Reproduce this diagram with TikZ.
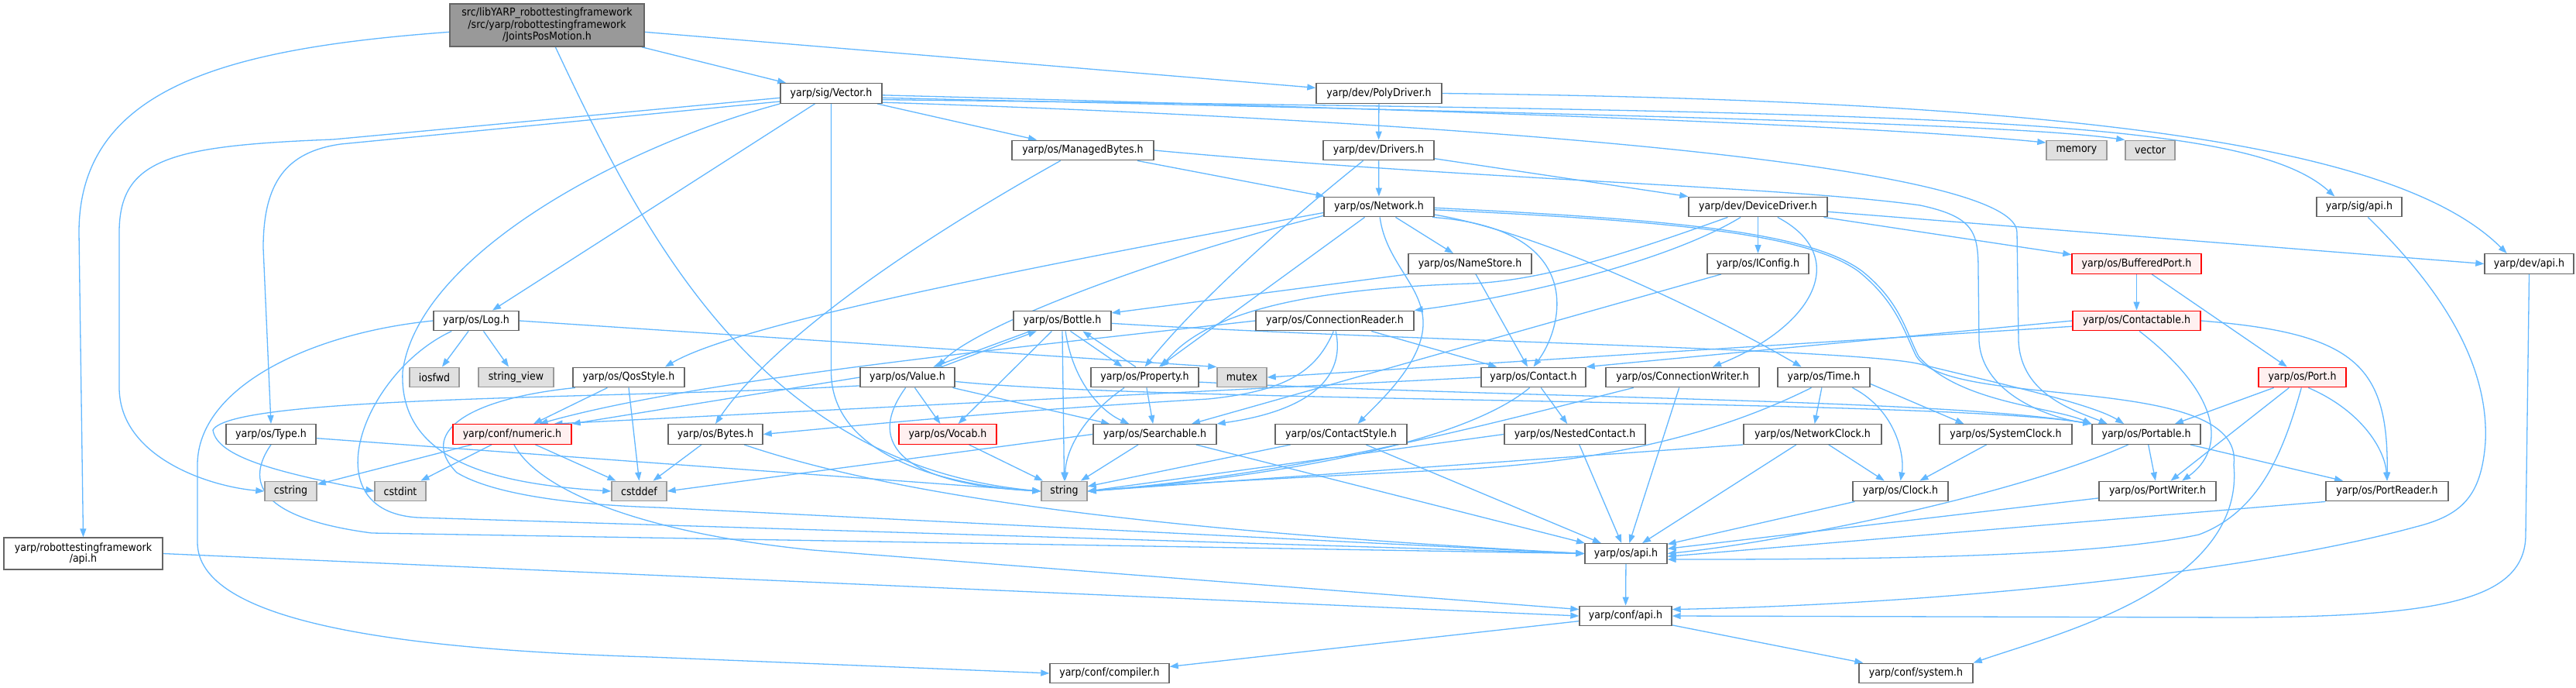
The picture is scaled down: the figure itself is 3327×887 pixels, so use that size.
\documentclass[tikz,border=0pt]{standalone}
\usepackage{fontspec}
\newfontfamily\dvc{DejaVu Sans Condensed}
\usetikzlibrary{arrows.meta}
\definecolor{edgecol}{HTML}{63B8FF}
\definecolor{ndborder}{HTML}{666666}
\definecolor{extfill}{HTML}{E0E0E0}
\definecolor{extborder}{HTML}{999999}
\definecolor{redborder}{HTML}{FF0000}
\definecolor{redfill}{HTML}{FFF0F0}
\definecolor{topfill}{HTML}{999999}
\pgfdeclarelayer{bottom}
\pgfdeclarelayer{background}
\pgfsetlayers{bottom,background,main}
\tikzset{
  nd/.style={draw=ndborder, fill=white, line width=1.4pt, minimum height=25.5pt, inner sep=0pt,
    font=\dvc\fontsize{14}{15.5}\selectfont, text=black, align=center},
  extnd/.style={nd, draw=extborder, fill=extfill},
  rednd/.style={nd, draw=redborder, fill=redfill},
  topnd/.style={nd, fill=topfill},
  lnk/.style={draw=edgecol, line width=1.3pt, -{Triangle[length=11pt,width=8pt]}}
}
\begin{document}
\begin{tikzpicture}[x=1pt,y=-1pt]
\begin{pgfonlayer}{bottom}
\fill[white] (0,0) rectangle (3327,887);
\end{pgfonlayer}
\useasboundingbox (0,0) rectangle (3327,887);
% nodes
\node[topnd, minimum width=251pt, minimum height=55pt] (top) at (706.5,32.5) {src/libYARP\_robottestingframework\\/src/yarp/robottestingframework\\/JointsPosMotion.h};
\node[nd, minimum width=131pt] (Vector) at (1073.5,120.5) {yarp/sig/Vector.h};
\node[nd, minimum width=162pt] (PolyDriver) at (1781,120.5) {yarp/dev/PolyDriver.h};
\node[nd, minimum width=183pt] (ManagedBytes) at (1398.5,194) {yarp/os/ManagedBytes.h};
\node[nd, minimum width=143pt] (Drivers) at (1780.5,194) {yarp/dev/Drivers.h};
\node[extnd, minimum width=78pt] (memory) at (2682,194) {memory};
\node[extnd, minimum width=64pt] (vector) at (2777,194) {vector};
\node[nd, minimum width=142pt] (Network) at (1781,267) {yarp/os/Network.h};
\node[nd, minimum width=179pt] (DeviceDriver) at (2270.5,267) {yarp/dev/DeviceDriver.h};
\node[nd, minimum width=110pt] (sigapi) at (3047,267) {yarp/sig/api.h};
\node[nd, minimum width=159pt] (NameStore) at (1898.5,340.5) {yarp/os/NameStore.h};
\node[nd, minimum width=131pt] (IConfig) at (2270.5,340.5) {yarp/os/IConfig.h};
\node[rednd, minimum width=167pt] (BufferedPort) at (2759.5,340.5) {yarp/os/BufferedPort.h};
\node[nd, minimum width=115pt] (devapi) at (3266.5,340.5) {yarp/dev/api.h};
\node[nd, minimum width=110pt] (Log) at (615,414) {yarp/os/Log.h};
\node[nd, minimum width=126pt] (Bottle) at (1372,414) {yarp/os/Bottle.h};
\node[nd, minimum width=204pt] (ConnectionReader) at (1724,414) {yarp/os/ConnectionReader.h};
\node[rednd, minimum width=165pt] (Contactable) at (2759.5,414) {yarp/os/Contactable.h};
\node[extnd, minimum width=64pt] (iosfwd) at (561,487) {iosfwd};
\node[extnd, minimum width=97pt] (stringview) at (666.5,487) {string\_view};
\node[nd, minimum width=144pt] (QosStyle) at (812,487) {yarp/os/QosStyle.h};
\node[nd, minimum width=122pt] (Value) at (1172,487) {yarp/os/Value.h};
\node[nd, minimum width=139pt] (Property) at (1478.5,487) {yarp/os/Property.h};
\node[extnd, minimum width=64pt] (mutex) at (1604,487) {mutex};
\node[nd, minimum width=135pt] (Contact) at (1980.5,487) {yarp/os/Contact.h};
\node[nd, minimum width=198pt] (ConnectionWriter) at (2173,487) {yarp/os/ConnectionWriter.h};
\node[nd, minimum width=119pt] (Time) at (2355.5,487) {yarp/os/Time.h};
\node[rednd, minimum width=113pt] (Port) at (2973.5,487) {yarp/os/Port.h};
\node[nd, minimum width=116pt] (Type) at (350,560.5) {yarp/os/Type.h};
\node[rednd, minimum width=153pt] (numeric) at (661.5,560.5) {yarp/conf/numeric.h};
\node[nd, minimum width=122pt] (Bytes) at (924,560.5) {yarp/os/Bytes.h};
\node[rednd, minimum width=126pt] (Vocab) at (1224,560.5) {yarp/os/Vocab.h};
\node[nd, minimum width=159pt] (Searchable) at (1491.5,560.5) {yarp/os/Searchable.h};
\node[nd, minimum width=170pt] (ContactStyle) at (1732,560.5) {yarp/os/ContactStyle.h};
\node[nd, minimum width=182pt] (NestedContact) at (2034,560.5) {yarp/os/NestedContact.h};
\node[nd, minimum width=178pt] (NetworkClock) at (2341,560.5) {yarp/os/NetworkClock.h};
\node[nd, minimum width=171pt] (SystemClock) at (2590.5,560.5) {yarp/os/SystemClock.h};
\node[nd, minimum width=140pt] (Portable) at (2772,560.5) {yarp/os/Portable.h};
\node[extnd, minimum width=67pt] (cstring) at (375.5,634) {cstring};
\node[extnd, minimum width=66pt] (cstdint) at (517,634) {cstdint};
\node[extnd, minimum width=71pt] (cstddef) at (825.5,634) {cstddef};
\node[extnd, minimum width=59pt] (string) at (1374.5,634) {string};
\node[nd, minimum width=123pt] (Clock) at (2454.5,634) {yarp/os/Clock.h};
\node[nd, minimum width=151pt] (PortWriter) at (2786.5,634) {yarp/os/PortWriter.h};
\node[nd, minimum width=158pt] (PortReader) at (3083,634) {yarp/os/PortReader.h};
\node[nd, minimum width=205pt, minimum height=41pt, font=\dvc\fontsize{14}{14.5}\selectfont] (rtfapi) at (107.5,714.5) {yarp/robottestingframework\\/api.h};
\node[nd, minimum width=106pt] (osapi) at (2100,714.5) {yarp/os/api.h};
\node[nd, minimum width=119pt] (confapi) at (2099.5,795) {yarp/conf/api.h};
\node[nd, minimum width=154pt] (compiler) at (1433,869) {yarp/conf/compiler.h};
\node[nd, minimum width=147pt] (system) at (2474.5,869) {yarp/conf/system.h};

\begin{pgfonlayer}{background}
% top
\draw[lnk] (top.184.8) .. controls (300,62) and (102,110) .. (102,300) -- (rtfapi.north);
\draw[lnk] (top.-69) .. controls (830,300) and (980,600) .. (string.west);
\draw[lnk] (top.-13.7) -- (Vector.167.5);
\draw[lnk] (top.-4.8) -- (PolyDriver.175);
% rtfapi
\draw[lnk] (rtfapi.east) -- (confapi.west);
% Vector
\draw[lnk] (Vector.185.7) -- (430,180) .. controls (220,188) and (154,205) .. (154,300) -- (154,500) .. controls (154,590) and (270,628) .. (cstring.west);
\draw[lnk] (Vector.189) -- (440,186) .. controls (370,196) and (340,235) .. (340,320) -- (Type.north);
\draw[lnk] (Vector.south west) .. controls (800,190) and (540,330) .. (520,480) .. controls (515,600) and (650,625) .. (cstddef.west);
\draw[lnk] (Vector) -- (Log);
\draw[lnk] (Vector.south) -- (1073.5,480) .. controls (1073.5,580) and (1200,625) .. (string.west);
\draw[lnk] (Vector) -- (ManagedBytes);
\draw[lnk] (Vector.-2.6) .. controls (2000,145) and (2450,165) .. (memory.166);
\draw[lnk] (Vector.-5.2) .. controls (2100,148) and (2600,160) .. (vector.north west);
\draw[lnk] (Vector.-7.8) .. controls (2500,145) and (2900,150) .. (sigapi.157);
\draw[lnk] (Vector.-10.4) .. controls (1700,150) and (2605,200) .. (2605,300) -- (2607,440) .. controls (2610,510) and (2680,530) .. (Portable.165);
% PolyDriver
\draw[lnk] (PolyDriver) -- (Drivers);
\draw[lnk] (PolyDriver.east) .. controls (2700,130) and (3100,190) .. (devapi.155);
% ManagedBytes
\draw[lnk] (ManagedBytes.205) .. controls (1150,330) and (990,450) .. (Bytes.north);
\draw[lnk] (ManagedBytes) -- (Network);
\draw[lnk] (ManagedBytes.east) .. controls (1900,232) and (2300,240) .. (2480,265) .. controls (2550,280) and (2555,300) .. (2555,350) -- (2556,440) .. controls (2560,510) and (2650,540) .. (Portable.north west);
% Drivers
\draw[lnk] (Drivers) -- (Network);
\draw[lnk] (Drivers) -- (DeviceDriver);
\draw[lnk] (Drivers.-146) .. controls (1620,320) and (1530,410) .. (Property.north);
% Network
\draw[lnk] (Network) -- (NameStore);
\draw[lnk] (Network.-85) .. controls (1790,340) and (1840,370) .. (1838,420) .. controls (1836,470) and (1780,520) .. (ContactStyle.32);
\draw[lnk] (Network) -- (Property);
\draw[lnk] (Network.-11) .. controls (2050,295) and (2020,420) .. (Contact.north);
\draw[lnk] (Network.-8) .. controls (1990,300) and (2200,400) .. (Time.155);
\draw[lnk] (Network.-3) .. controls (2150,285) and (2330,300) .. (2400,350) .. controls (2450,390) and (2460,430) .. (2475,460) .. controls (2520,530) and (2900,480) .. (2885,600) .. controls (2900,760) and (2650,820) .. (system.north east);
\draw[lnk] (Network.-1) .. controls (2150,283) and (2335,298) .. (2405,350) .. controls (2455,390) and (2462,430) .. (2478,460) .. controls (2530,520) and (2650,525) .. (Portable.north west);
\draw[lnk] (Network.189) .. controls (1500,330) and (1260,420) .. (Value.19);
\draw[lnk] (Network.186) .. controls (1300,350) and (950,420) .. (QosStyle.16);
% DeviceDriver
\draw[lnk] (DeviceDriver) -- (IConfig);
\draw[lnk] (DeviceDriver.-9) -- (BufferedPort.172);
\draw[lnk] (DeviceDriver.-4) -- (devapi.west);
\draw[lnk] (DeviceDriver.-149) .. controls (2150,340) and (1950,385) .. (ConnectionReader.north east);
\draw[lnk] (DeviceDriver.-28) .. controls (2390,330) and (2345,420) .. (ConnectionWriter.19);
\draw[lnk] (DeviceDriver.-161) .. controls (2120,320) and (2000,362) .. (1900,366) .. controls (1700,372) and (1560,400) .. (Property.32);
% NameStore
\draw[lnk] (NameStore) -- (Contact);
\draw[lnk] (NameStore.south west) -- (Bottle.9);
% BufferedPort
\draw[lnk] (BufferedPort) -- (Contactable);
\draw[lnk] (BufferedPort) -- (Port);
% IConfig
\draw[lnk] (IConfig) -- (Searchable);
% sig/api, dev/api
\draw[lnk] (sigapi.-50) .. controls (3140,360) and (3215,460) .. (3210,570) .. controls (3205,640) and (3180,665) .. (3120,680) .. controls (2900,740) and (2500,780) .. (confapi.8);
\draw[lnk] (devapi.south) -- (3262,690) .. controls (3262,775) and (3150,795) .. (2900,797) -- (confapi.east);
% Bottle
\draw[lnk] (Value.17.6) -- (Bottle.202);
\draw[lnk] (Bottle.198.4) -- (Value.22.7);
\draw[lnk] (Bottle.-52.4) -- (Property.155.5);
\draw[lnk] (Property.131.5) -- (Bottle.-27.5);
\draw[lnk] (Bottle.-73) .. controls (1385,490) and (1420,530) .. (Searchable.158);
\draw[lnk] (Bottle.south) -- (string.north);
\draw[lnk] (Bottle) -- (Vocab);
\draw[lnk] (Bottle.-3) .. controls (1800,440) and (2400,450) .. (2480,470) .. controls (2560,490) and (2700,520) .. (Portable.155);
% Property
\draw[lnk] (Property) -- (Searchable);
\draw[lnk] (Property.-153) .. controls (1395,540) and (1376,585) .. (string.85);
\draw[lnk] (Property.-5) .. controls (2000,515) and (2500,515) .. (Portable.north west);
% Value
\draw[lnk] (Value) -- (Vocab);
\draw[lnk] (Value) -- (Searchable);
\draw[lnk] (Value.-100) .. controls (1115,575) and (1170,625) .. (string.west);
\draw[lnk] (Value.-5) .. controls (1500,520) and (2500,515) .. (Portable.north west);
\draw[lnk] (Value.west) -- (numeric.north east);
\draw[lnk] (Value.190) .. controls (800,515) and (300,510) .. (275,555) .. controls (280,590) and (360,610) .. (cstdint.west);
% Vocab
\draw[lnk] (Vocab) -- (string);
% Searchable
\draw[lnk] (Searchable) -- (string);
\draw[lnk] (Searchable.west) -- (cstddef.east);
\draw[lnk] (Searchable) -- (osapi);
% ContactStyle
\draw[lnk] (ContactStyle) -- (string);
\draw[lnk] (ContactStyle) -- (osapi);
% Contact
\draw[lnk] (Contact) -- (NestedContact);
\draw[lnk] (Contact.-110) .. controls (1880,580) and (1600,620) .. (string.east);
\draw[lnk] (Contact.west) -- (numeric.14);
% NestedContact
\draw[lnk] (NestedContact.west) -- (string.east);
\draw[lnk] (NestedContact) -- (osapi);
% ConnectionReader
\draw[lnk] (ConnectionReader) -- (Contact);
\draw[lnk] (ConnectionReader.-85) .. controls (1745,520) and (1620,540) .. (Searchable.north east);
\draw[lnk] (ConnectionReader.-97) .. controls (1700,480) and (1660,505) .. (1560,515) .. controls (1300,530) and (1100,550) .. (Bytes.east);
\draw[lnk] (ConnectionReader.west) .. controls (1300,450) and (900,490) .. (numeric.21);
% ConnectionWriter
\draw[lnk] (ConnectionWriter) -- (osapi);
\draw[lnk] (ConnectionWriter.-168) .. controls (1950,540) and (1700,610) .. (string.east);
% Time
\draw[lnk] (Time) -- (NetworkClock);
\draw[lnk] (Time.-20) .. controls (2450,530) and (2460,590) .. (Clock.north);
\draw[lnk] (Time.-8) -- (SystemClock.166);
\draw[lnk] (Time.-140) .. controls (2200,570) and (2050,595) .. (1900,605) .. controls (1700,615) and (1500,625) .. (string.east);
% NetworkClock
\draw[lnk] (NetworkClock) -- (Clock);
\draw[lnk] (NetworkClock) -- (osapi);
\draw[lnk] (NetworkClock.south west) -- (string.east);
% SystemClock, Clock
\draw[lnk] (SystemClock) -- (Clock);
\draw[lnk] (Clock) -- (osapi);
% Portable
\draw[lnk] (Portable) -- (PortWriter);
\draw[lnk] (Portable) -- (PortReader);
\draw[lnk] (Portable.-150) .. controls (2600,640) and (2300,700) .. (osapi.east);
\draw[lnk] (PortWriter) -- (osapi);
\draw[lnk] (PortReader.south west) -- (osapi.-4);
% Port
\draw[lnk] (Port) -- (Portable);
\draw[lnk] (Port) -- (PortWriter);
\draw[lnk] (Port.-60) .. controls (3050,530) and (3080,580) .. (PortReader.north);
\draw[lnk] (Port.-95) .. controls (2950,580) and (2920,660) .. (2840,690) .. controls (2700,720) and (2400,722) .. (osapi.-8);
% Contactable
\draw[lnk] (Contactable.west) -- (Contact.north east);
\draw[lnk] (Contactable.185) -- (mutex.east);
\draw[lnk] (Contactable.-75) .. controls (2870,510) and (2875,580) .. (PortWriter.23);
\draw[lnk] (Contactable.east) .. controls (3040,430) and (3085,470) .. (PortReader.north);
% QosStyle
\draw[lnk] (QosStyle) -- (numeric);
\draw[lnk] (QosStyle.south) -- (cstddef.north);
\draw[lnk] (QosStyle.-169) .. controls (600,515) and (540,560) .. (590,610) .. controls (640,640) and (750,652) .. (850,655) -- (osapi.west);
% Type
\draw[lnk] (Type.south) .. controls (318,620) and (330,668) .. (480,688) -- (osapi.west);
\draw[lnk] (Type.-5) -- (string.west);
% Log
\draw[lnk] (Log.-157) .. controls (470,480) and (400,660) .. (540,668) -- (osapi.west);
\draw[lnk] (Log.west) .. controls (400,430) and (255,500) .. (255,600) -- (255,700) .. controls (255,800) and (500,838) .. (840,848) -- (compiler.west);
\draw[lnk] (Log) -- (iosfwd);
\draw[lnk] (Log) -- (stringview);
\draw[lnk] (Log.east) -- (mutex.north west);
% numeric
\draw[lnk] (numeric) -- (cstring);
\draw[lnk] (numeric) -- (cstdint);
\draw[lnk] (numeric) -- (cstddef);
\draw[lnk] (numeric.-80) .. controls (700,640) and (850,690) .. (1050,710) -- (confapi.172);
% Bytes
\draw[lnk] (Bytes) -- (cstddef);
\draw[lnk] (Bytes.-20) .. controls (1200,655) and (1600,690) .. (osapi.west);
% bottom
\draw[lnk] (osapi) -- (confapi);
\draw[lnk] (confapi) -- (system);
\draw[lnk] (confapi) -- (compiler);
\end{pgfonlayer}
\end{tikzpicture}
\end{document}
